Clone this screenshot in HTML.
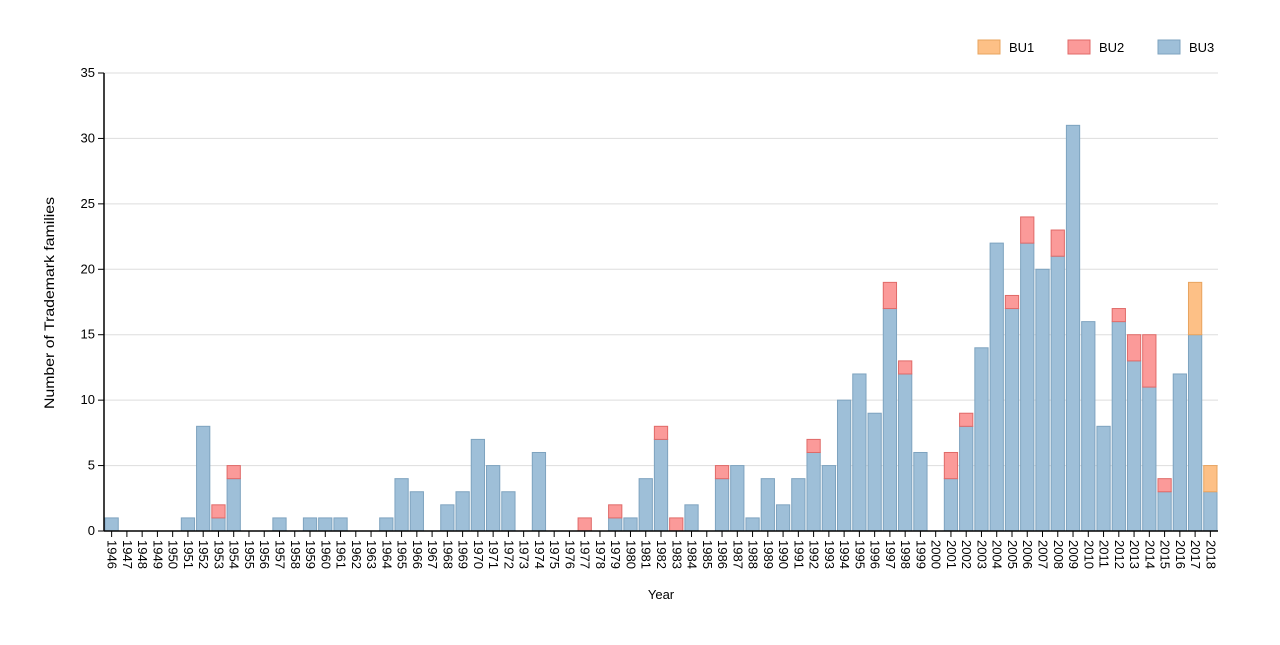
<!DOCTYPE html>
<html><head><meta charset="utf-8"><style>
body{margin:0;background:#fff;font-family:"Liberation Sans",sans-serif;}
svg text{font-family:"Liberation Sans",sans-serif;}
</style></head><body>
<svg id="chart" width="1280" height="640"></svg>
<script>
const years=[];for(let y=1946;y<=2018;y++)years.push(y);
const bu3=[1,0,0,0,0,1,8,1,4,0,0,1,0,1,1,1,0,0,1,4,3,0,2,3,7,5,3,0,6,0,0,0,0,1,1,4,7,0,2,0,4,5,1,4,2,4,6,5,10,12,9,17,12,6,0,4,8,14,22,17,22,20,21,31,16,8,16,13,11,3,12,15,3];
const bu2=[0,0,0,0,0,0,0,1,1,0,0,0,0,0,0,0,0,0,0,0,0,0,0,0,0,0,0,0,0,0,0,1,0,1,0,0,1,1,0,0,1,0,0,0,0,0,1,0,0,0,0,2,1,0,0,2,1,0,0,1,2,0,2,0,0,0,1,2,4,1,0,0,0];
const bu1=[0,0,0,0,0,0,0,0,0,0,0,0,0,0,0,0,0,0,0,0,0,0,0,0,0,0,0,0,0,0,0,0,0,0,0,0,0,0,0,0,0,0,0,0,0,0,0,0,0,0,0,0,0,0,0,0,0,0,0,0,0,0,0,0,0,0,0,0,0,0,0,4,2];
const yTicks=[0,5,10,15,20,25,30,35];
const seriesNames=["BU1","BU2","BU3"];
const NS="http://www.w3.org/2000/svg";
const svg=document.getElementById('chart');
const X0=104,X1=1218,Y0=531,Y1=73,YMAX=35;
const bw=(X1-X0)/years.length;
const xs=i=>X0+i*bw;
const ys=v=>Y0-(v/YMAX)*(Y0-Y1);
function mk(t,a,p){const e=document.createElementNS(NS,t);for(const k in a)e.setAttribute(k,a[k]);(p||svg).appendChild(e);return e;}
const grid=mk('g',{});


yTicks.forEach(t=>{
 if(t>0){mk('line',{x1:X0,x2:X1,y1:ys(t),y2:ys(t),stroke:'#ddd','stroke-width':1},grid);}
 mk('line',{x1:X0-6,x2:X0,y1:ys(t),y2:ys(t),stroke:'#000'});
 const tx=mk('text',{x:X0-9,y:ys(t)+4,'text-anchor':'end','font-size':13,fill:'#000'});
 tx.textContent=t;
 
 
});
const colors={BU1:['#fdc086','#e8a45f'],BU2:['#fb9a99','#e06a68'],BU3:['#9ebfd8','#7ea3bf']};
years.forEach((yr,i)=>{
 const x=xs(i)+1,w=bw-2;
 let base=0;
 [['BU3',bu3[i]],['BU2',bu2[i]],['BU1',bu1[i]]].forEach(([s,v])=>{
  if(v>0){
   const r=mk('rect',{x:x,y:ys(base+v),width:w,height:ys(base)-ys(base+v),fill:colors[s][0],stroke:colors[s][1],'stroke-width':1});
   
   
   base+=v;
  }
 });
 const cx=xs(i)+bw/2;
 mk('line',{x1:cx,x2:cx,y1:Y0,y2:Y0+6,stroke:'#000'});
 const tx=mk('text',{transform:`translate(${cx-4},${Y0+9}) rotate(90)`,'font-size':13,fill:'#000'});
 tx.textContent=yr;
 
 
});
const ya=mk('line',{x1:X0,x2:X0,y1:Y1,y2:Y0,stroke:'#000','stroke-width':1.5});


const xa=mk('line',{x1:X0,x2:X1,y1:Y0,y2:Y0,stroke:'#000','stroke-width':1.5});


const yt=mk('text',{transform:'translate(54,303) rotate(-90)','text-anchor':'middle','font-size':14,textLength:212,lengthAdjust:'spacingAndGlyphs',fill:'#000'});
yt.textContent='Number of Trademark families';


const xt=mk('text',{x:661,y:599,'text-anchor':'middle','font-size':13,fill:'#000'});
xt.textContent='Year';


const lx=[978,1068,1158];
seriesNames.forEach((s,i)=>{
 const g=mk('g',{});
 
 
 mk('rect',{x:lx[i],y:40,width:22,height:14,fill:colors[s][0],stroke:colors[s][1]},g);
 const t=mk('text',{x:lx[i]+31,y:52,'font-size':13,fill:'#000'},g);
 t.textContent=s;
});
</script>
</body></html>
